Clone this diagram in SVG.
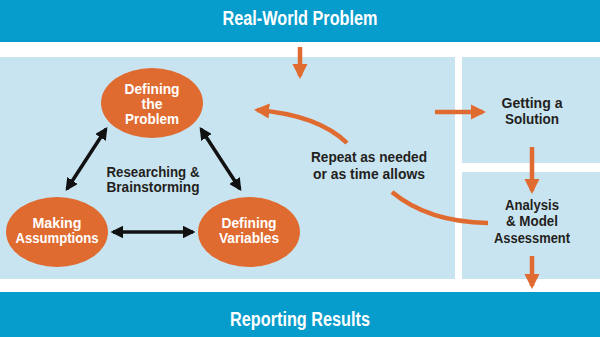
<svg xmlns="http://www.w3.org/2000/svg" width="600" height="337" viewBox="0 0 600 337">
<defs>
<style>
.bar{fill:#069ccb}
.panel{fill:#c9e4f1}
.node{fill:#e06b30}
.wt{fill:#ffffff;font-family:"Liberation Sans",Arial,sans-serif;font-weight:bold;text-anchor:middle}
.dk{fill:#231f20;font-family:"Liberation Sans",Arial,sans-serif;font-weight:bold;text-anchor:middle;font-size:14px}
.ow{stroke:#e06b30;stroke-width:4.5;fill:none}
.bk{stroke:#111111;stroke-width:3.5;fill:none}
</style>
<marker id="oh" viewBox="0 0 10 10" refX="8" refY="5" markerWidth="3.4" markerHeight="3.4" orient="auto" markerUnits="strokeWidth">
<path d="M0,0 L10,5 L0,10 Z" fill="#e06b30"/>
</marker>
<marker id="bh" viewBox="0 0 10 10" refX="8" refY="5" markerWidth="3.6" markerHeight="3.6" orient="auto-start-reverse" markerUnits="strokeWidth">
<path d="M0,0 L10,5 L0,10 Z" fill="#111111"/>
</marker>
</defs>
<rect width="600" height="337" fill="#ffffff"/>
<g id="top-bar">
<rect class="bar" x="0" y="0" width="600" height="42"/>
<text class="wt" x="300" y="25" font-size="21" textLength="155" lengthAdjust="spacingAndGlyphs">Real-World Problem</text>
</g>
<g id="panels">
<rect class="panel" x="0" y="57" width="455" height="222"/>
<rect class="panel" x="462" y="57" width="138" height="106"/>
<rect class="panel" x="462" y="172" width="138" height="107"/>
</g>
<g id="bottom-bar">
<rect class="bar" x="0" y="292" width="600" height="45"/>
<text class="wt" x="300" y="326" font-size="20" textLength="140" lengthAdjust="spacingAndGlyphs">Reporting Results</text>
</g>
<g id="connectors">
<line class="ow" x1="300" y1="47" x2="300" y2="76" marker-end="url(#oh)"/>
<path class="ow" d="M347,143 Q318,115 257,110" marker-end="url(#oh)"/>
<path class="ow" d="M392,192 Q428,222 488,223"/>
<line class="ow" x1="435" y1="112" x2="483" y2="112" marker-end="url(#oh)"/>
<line class="ow" x1="532" y1="147" x2="532" y2="191" marker-end="url(#oh)"/>
<line class="ow" x1="532" y1="256" x2="532" y2="286" marker-end="url(#oh)"/>
<line class="bk" x1="106" y1="129" x2="67" y2="189" marker-start="url(#bh)" marker-end="url(#bh)"/>
<line class="bk" x1="201" y1="129" x2="240" y2="189" marker-start="url(#bh)" marker-end="url(#bh)"/>
<line class="bk" x1="113" y1="232" x2="193" y2="232" marker-start="url(#bh)" marker-end="url(#bh)"/>
</g>
<g id="defining-problem">
<ellipse class="node" cx="152" cy="103" rx="51" ry="35"/>
<text class="wt" font-size="14" x="152" y="94" textLength="55" lengthAdjust="spacingAndGlyphs">Defining</text>
<text class="wt" font-size="14" x="152" y="109">the</text>
<text class="wt" font-size="14" x="152" y="124" textLength="54" lengthAdjust="spacingAndGlyphs">Problem</text>
</g>
<g id="making-assumptions">
<ellipse class="node" cx="57" cy="232" rx="51" ry="35"/>
<text class="wt" font-size="14" x="57" y="228" textLength="49" lengthAdjust="spacingAndGlyphs">Making</text>
<text class="wt" font-size="14" x="57" y="243" textLength="83" lengthAdjust="spacingAndGlyphs">Assumptions</text>
</g>
<g id="defining-variables">
<ellipse class="node" cx="249" cy="232" rx="51" ry="35"/>
<text class="wt" font-size="14" x="249" y="228" textLength="55" lengthAdjust="spacingAndGlyphs">Defining</text>
<text class="wt" font-size="14" x="249" y="243" textLength="60" lengthAdjust="spacingAndGlyphs">Variables</text>
</g>
<g id="researching">
<text class="dk" x="153" y="177" textLength="93" lengthAdjust="spacingAndGlyphs">Researching &amp;</text>
<text class="dk" x="153" y="192" textLength="93" lengthAdjust="spacingAndGlyphs">Brainstorming</text>
</g>
<g id="repeat">
<text class="dk" x="369" y="162" textLength="116" lengthAdjust="spacingAndGlyphs">Repeat as needed</text>
<text class="dk" x="369" y="179" textLength="112" lengthAdjust="spacingAndGlyphs">or as time allows</text>
</g>
<g id="getting-solution">
<text class="dk" x="532" y="108" textLength="61" lengthAdjust="spacingAndGlyphs">Getting a</text>
<text class="dk" x="532" y="124" textLength="54" lengthAdjust="spacingAndGlyphs">Solution</text>
</g>
<g id="analysis">
<text class="dk" x="532" y="210" textLength="54" lengthAdjust="spacingAndGlyphs">Analysis</text>
<text class="dk" x="532" y="226" textLength="52" lengthAdjust="spacingAndGlyphs">&amp; Model</text>
<text class="dk" x="532" y="243" textLength="76" lengthAdjust="spacingAndGlyphs">Assessment</text>
</g>
</svg>
